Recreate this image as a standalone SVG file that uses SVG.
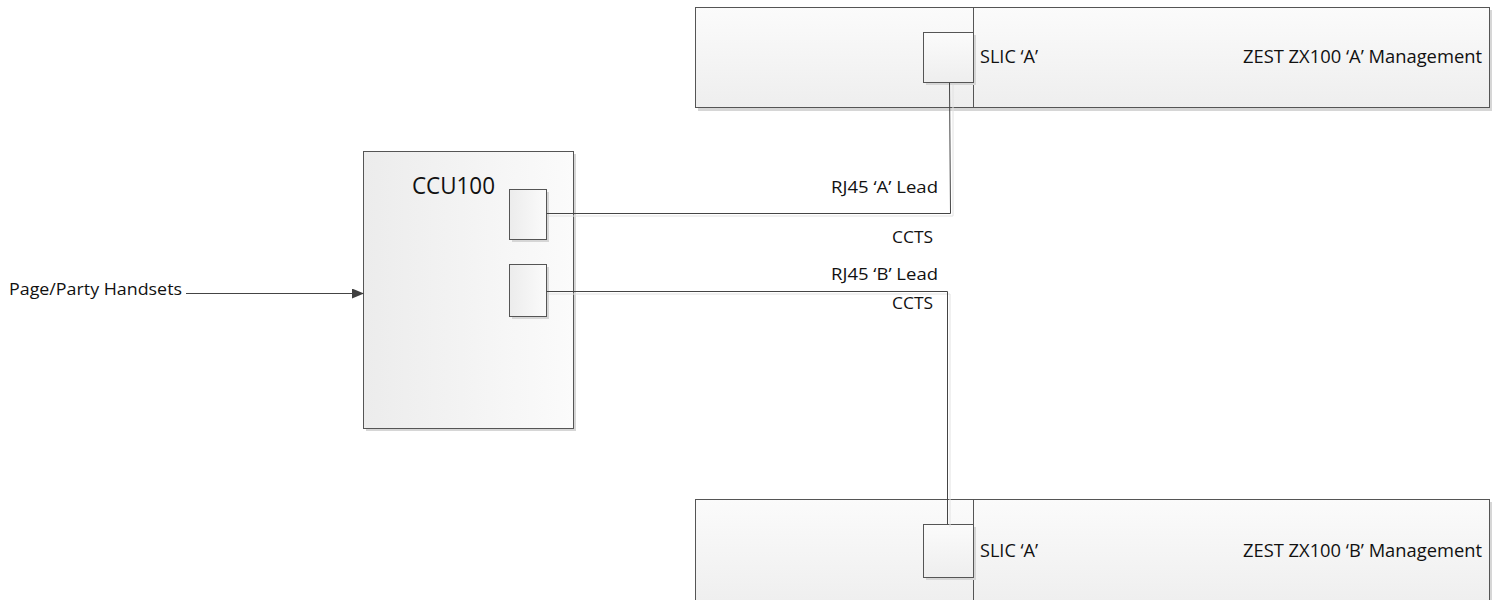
<svg xmlns="http://www.w3.org/2000/svg" width="1492" height="600" viewBox="0 0 1492 600">
<style>
.box{stroke:#555;stroke-width:1}
.sh{fill:#d6d6d6}
.t{font-family:"Open Sans","Liberation Sans",sans-serif;fill:#111}
.conn{fill:none;stroke:#444;stroke-width:1}
.connsh{fill:none;stroke:#e2e2e2;stroke-width:1}
</style>
<defs>
<linearGradient id="gv" x1="0" y1="0" x2="0" y2="1"><stop offset="0" stop-color="#fbfbfb"/><stop offset="1" stop-color="#eeeeee"/></linearGradient>
<linearGradient id="gh" x1="0" y1="0" x2="1" y2="0"><stop offset="0" stop-color="#ececec"/><stop offset="1" stop-color="#fbfbfb"/></linearGradient>
<marker id="arr" markerWidth="12" markerHeight="10" refX="11" refY="5" orient="auto" markerUnits="userSpaceOnUse"><path d="M0,0 L12,5 L0,10 Z" fill="#404040"/></marker>
</defs>
<rect width="1492" height="600" fill="#fff"/>

<g id="zestA">
<rect class="sh" x="698" y="10" width="795" height="101"/>
<rect class="box" x="695.5" y="7.5" width="794" height="100" fill="url(#gv)"/>
<line x1="973.5" y1="7.5" x2="973.5" y2="107.5" stroke="#555"/>
<rect class="sh" x="926" y="35" width="50" height="50"/>
<rect class="box" x="923.5" y="32.5" width="50" height="50" fill="url(#gv)"/>
<text class="t" x="980" y="63" font-size="18" textLength="58" lengthAdjust="spacingAndGlyphs">SLIC ‘A’</text>
<text class="t" x="1243" y="63" font-size="18" textLength="239" lengthAdjust="spacingAndGlyphs">ZEST ZX100 ‘A’ Management</text>
</g>

<g id="zestB">
<rect class="sh" x="698" y="502" width="795" height="110"/>
<rect class="box" x="695.5" y="499.5" width="794" height="110" fill="url(#gv)"/>
<line x1="973.5" y1="499.5" x2="973.5" y2="610" stroke="#555"/>
<rect class="sh" x="926" y="527" width="50" height="53"/>
<rect class="box" x="923.5" y="524.5" width="50" height="53" fill="url(#gv)"/>
<text class="t" x="980" y="557" font-size="18" textLength="58" lengthAdjust="spacingAndGlyphs">SLIC ‘A’</text>
<text class="t" x="1243" y="557" font-size="18" textLength="239" lengthAdjust="spacingAndGlyphs">ZEST ZX100 ‘B’ Management</text>
</g>

<g id="ccu100">
<rect class="sh" x="366" y="154" width="210" height="277"/>
<rect class="box" x="363.5" y="151.5" width="210" height="277" fill="url(#gh)"/>
<text class="t" x="412" y="194" font-size="23" textLength="83" lengthAdjust="spacingAndGlyphs">CCU100</text>
<rect class="sh" x="512" y="192" width="37" height="50"/>
<rect class="box" x="509.5" y="189.5" width="37" height="50" fill="url(#gh)"/>
<rect class="sh" x="512" y="267" width="37" height="52"/>
<rect class="box" x="509.5" y="264.5" width="37" height="52" fill="url(#gh)"/>
</g>

<g id="labels">
<text class="t" x="9" y="295" font-size="17" textLength="173" lengthAdjust="spacingAndGlyphs">Page/Party Handsets</text>
<text class="t" x="831" y="193" font-size="17" textLength="107" lengthAdjust="spacingAndGlyphs">RJ45 ‘A’ Lead</text>
<text class="t" x="892" y="243" font-size="17" textLength="41" lengthAdjust="spacingAndGlyphs">CCTS</text>
<text class="t" x="831" y="280" font-size="17" textLength="107" lengthAdjust="spacingAndGlyphs">RJ45 ‘B’ Lead</text>
<text class="t" x="892" y="309" font-size="17" textLength="41" lengthAdjust="spacingAndGlyphs">CCTS</text>
</g>

<g id="connectors">
<polyline class="connsh" points="549,216 953,216 953,85"/>
<polyline class="connsh" points="549,294 950,294 950,527"/>
<polyline class="conn" points="546.5,213.5 950.5,213.5 949.5,82.5"/>
<polyline class="conn" points="546.5,291.5 947.5,291.5 947.5,524.5"/>
<line class="conn" x1="186" y1="293.5" x2="363" y2="293.5" marker-end="url(#arr)"/>
</g>
</svg>
